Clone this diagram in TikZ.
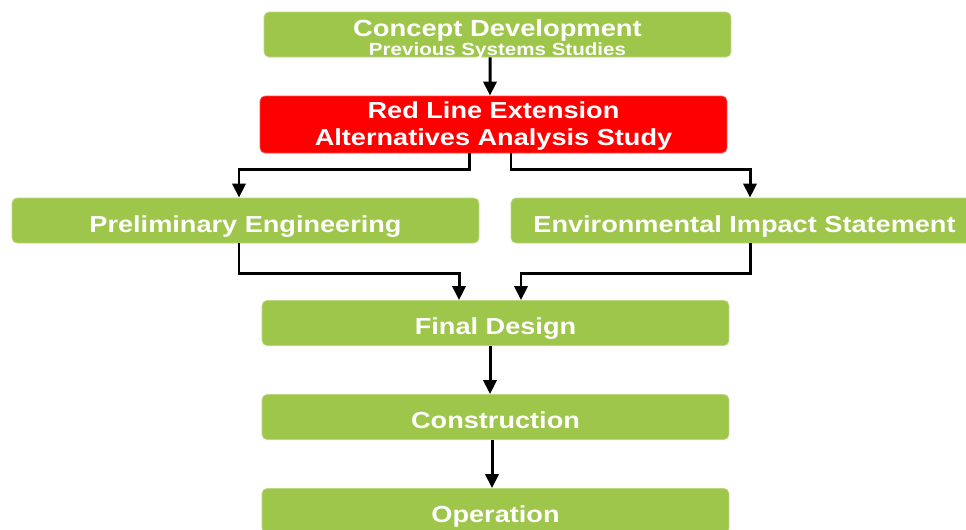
\documentclass[tikz,border=0pt]{standalone}
\usepackage{fontspec}
\setmainfont{Liberation Sans}[FakeStretch=1.17]
\usepackage{tikz}
\usepackage{xcolor}
\usetikzlibrary{arrows.meta, positioning}

\definecolor{stepgreen}{RGB}{158,198,74}
\definecolor{stepred}{RGB}{255,0,0}

\tikzset{
  stage/.style={draw=stepgreen!70!white, fill=stepgreen, rounded corners=0.1cm, text=white,
    font=\bfseries\fontsize{13.2}{15}\selectfont, align=center,
    minimum width=9.34cm, minimum height=0.9cm, inner sep=0pt},
  oneline/.style={text height=13.4pt, text depth=0pt},
  redstage/.style={stage, draw=stepred!70!white, fill=stepred, minimum height=1.14cm},
  flow/.style={line width=1.7pt, -{Triangle[width=0.26cm, length=0.28cm]}}
}

\begin{document}
\begin{tikzpicture}[x=0.02cm, y=-0.02cm]
      \useasboundingbox (0,0) rectangle (966,529);

      \node[stage, text height=24pt, text depth=0pt] (concept) at (497.5,34.5) {{\fontsize{13.3}{15}\selectfont Concept Development}\\[-4pt]
        {\fontsize{10}{11}\selectfont Previous Systems Studies}};
      \node[redstage, text height=23.5pt, text depth=0pt] (red) at (493.5,124.5) {Red Line Extension\\[0pt]Alternatives Analysis Study};

      \node[stage, oneline] (prelim) at (245.5,220.5) {Preliminary Engineering};
      \node[stage, oneline] (env) at (744.5,220.5) {Environmental Impact Statement};

      \node[stage, oneline] (final) at (495.5,323) {Final Design};
      \node[stage, oneline] (constr) at (495.5,417) {Construction};
      \node[stage, oneline] (oper) at (495.5,511) {Operation};

      \draw[flow] ([xshift=-0.15cm]concept.south) -- ([xshift=-0.07cm]red.north);
      \draw[flow] ([xshift=-0.49cm]red.south) -- ++(0,16) -| ([xshift=-0.13cm]prelim.north);
      \draw[flow] ([xshift=0.35cm]red.south) -- ++(0,16) -| ([xshift=0.11cm]env.north);
      \draw[flow] ([xshift=-0.13cm]prelim.south) -- ++(0,30) -| ([xshift=-0.73cm]final.north);
      \draw[flow] ([xshift=0.11cm]env.south) -- ++(0,30) -| ([xshift=0.51cm]final.north);
      \draw[flow] ([xshift=-0.11cm]final.south) -- ([xshift=-0.11cm]constr.north);
      \draw[flow] ([xshift=-0.07cm]constr.south) -- ([xshift=-0.07cm]oper.north);
  \end{tikzpicture}
\end{document}
